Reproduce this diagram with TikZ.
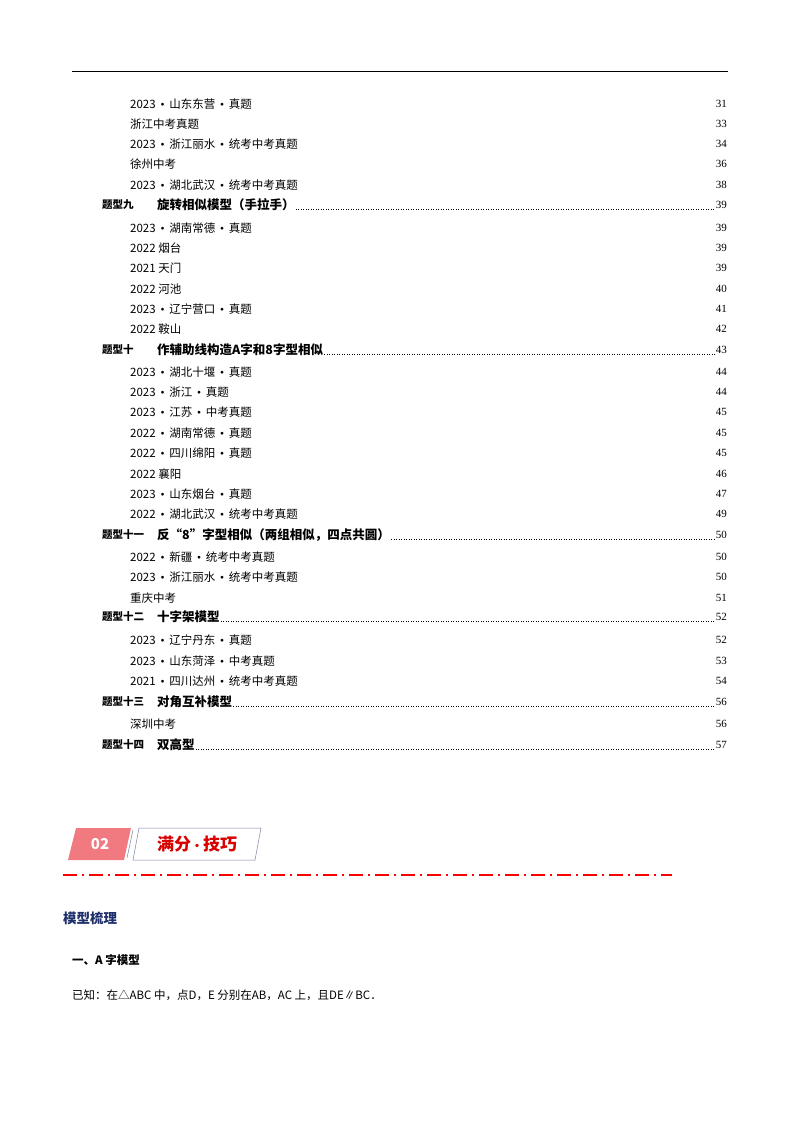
\documentclass[tikz,border=0pt]{standalone}
\usepackage{fontspec}
\setmainfont{Liberation Serif}
\newfontfamily\cjk{Noto Sans CJK SC}
\usetikzlibrary{calc}
\definecolor{navy}{HTML}{1F2F6B}
\definecolor{badgered}{HTML}{F07A80}
\newcommand{\bt}{{\rmfamily\ \,•\ \,}}
\tikzset{
 entry/.style={anchor=west,font=\cjk\fontsize{11.5}{12}\selectfont,inner sep=0},
 pnum/.style={anchor=east,font=\fontsize{11}{12}\selectfont,inner sep=0},
 badge/.style={anchor=west,font=\cjk\bfseries\fontsize{10.5}{12}\selectfont,inner sep=0},
 head/.style={anchor=west,font=\cjk\bfseries\fontsize{12.5}{14}\selectfont,inner sep=0},
 leader/.style={dotted,line width=0.5pt}
}
\begin{document}
\begin{tikzpicture}[x=1pt,y=-1pt]
\useasboundingbox (0,0) rectangle (800,1132);
\fill[white] (0,0) rectangle (800,1132);
\coordinate (hl) at (72,72); \coordinate (hr) at (728,72);
\draw[line width=1pt] (hl) -- (hr);
\foreach \y/\t/\p [count=\i] in {
104/2023\bt 山东东营\bt 真题/31,
124/浙江中考真题/33,
144/2023\bt 浙江丽水\bt 统考中考真题/34,
164/徐州中考/36,
185/2023\bt 湖北武汉\bt 统考中考真题/38,
228/2023\bt 湖南常德\bt 真题/39,
248/2022 烟台/39,
268/2021 天门/39,
289/2022 河池/40,
309/2023\bt 辽宁营口\bt 真题/41,
329/2022 鞍山/42,
372/2023\bt 湖北十堰\bt 真题/44,
392/2023\bt 浙江\bt 真题/44,
412/2023\bt 江苏\bt 中考真题/45,
433/2022\bt 湖南常德\bt 真题/45,
453/2022\bt 四川绵阳\bt 真题/45,
474/2022 襄阳/46,
494/2023\bt 山东烟台\bt 真题/47,
514/2022\bt 湖北武汉\bt 统考中考真题/49,
557/2022\bt 新疆\bt 统考中考真题/50,
577/2023\bt 浙江丽水\bt 统考中考真题/50,
598/重庆中考/51,
640/2023\bt 辽宁丹东\bt 真题/52,
661/2023\bt 山东菏泽\bt 中考真题/53,
681/2021\bt 四川达州\bt 统考中考真题/54,
724/深圳中考/56}{
 \node[entry] (e\i) at (130,\y) {\t};
 \node[pnum] (p\i) at (727,\y) {\p};
}
\foreach \y/\b/\t/\p [count=\i] in {
205/题型九/旋转相似模型（手拉手）/39,
350/题型十/作辅助线构造A字和8字型相似/43,
535/题型十一/反“8”字型相似（两组相似，四点共圆）/50,
617/题型十二/十字架模型/52,
702/题型十三/对角互补模型/56,
745/题型十四/双高型/57}{
 \node[badge] (b\i) at (102,\y) {\b};
 \node[head] (h\i) at (157,\y) {\t};
 \node[pnum] (q\i) at (727,\y) {\p};
 \draw[leader] ($(h\i.east)+(1,4)$) -- ($(q\i.west)+(-1,4)$);
}
\fill[badgered] (76,828) -- (131,828) -- (124,860) -- (68,860) -- cycle;
\node[font=\cjk\bfseries\fontsize{15}{16}\selectfont,text=white] (n02) at (100,844) {02};
\draw[navy!60,line width=0.5pt] (139,828) -- (261,828) -- (255,860) -- (133,860) -- cycle;
\draw[navy!60,line width=0.5pt] (133,830) -- (127,858);
\node[font=\cjk\bfseries\fontsize{17}{18}\selectfont,text=red!85!black] (mf) at (197,844) {满分{\fontsize{12}{12}\selectfont•}技巧};
\coordinate (dl) at (63,875); \coordinate (dr) at (672,875);
\draw[red,line width=1.5pt,dash pattern=on 14pt off 5pt on 2pt off 5pt] (dl) -- (dr);
\node[anchor=west,inner sep=0,font=\cjk\bfseries\fontsize{13.5}{15}\selectfont,text=navy] (mx) at (63,918) {模型梳理};
\node[anchor=west,inner sep=0,font=\cjk\bfseries\fontsize{11.5}{13}\selectfont] (a1) at (72,960) {一、A 字模型};
\node[anchor=west,inner sep=0,font=\cjk\fontsize{11.5}{13}\selectfont] (k1) at (72,995) {已知：在△ABC 中，点D，E 分别在AB，AC 上，且DE∥BC．};
\end{tikzpicture}
\end{document}
